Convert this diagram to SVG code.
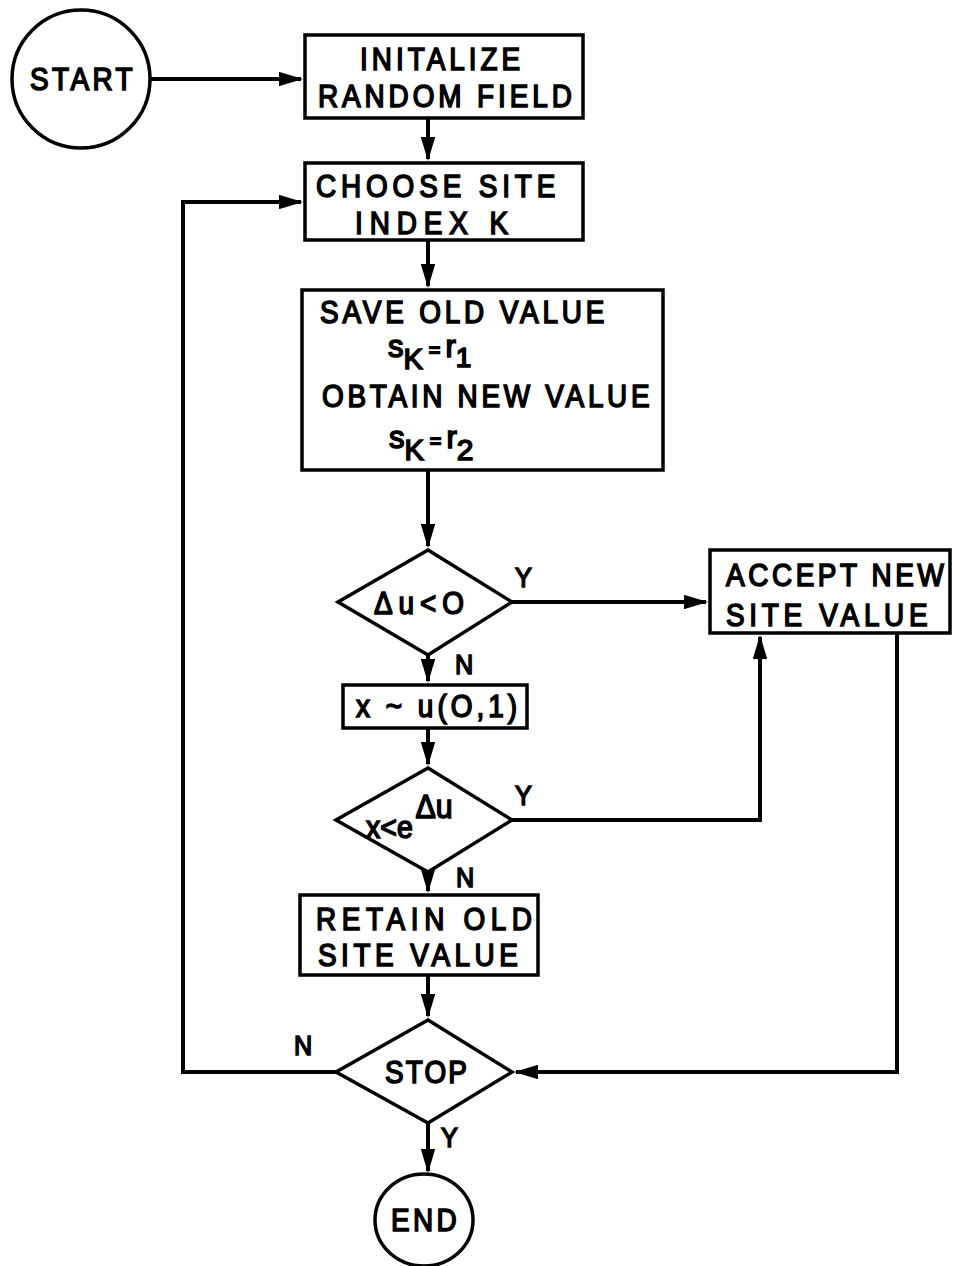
<svg xmlns="http://www.w3.org/2000/svg" width="953" height="1266" viewBox="0 0 953 1266">
<defs>
<marker id="ah" markerWidth="6" markerHeight="3.6" refX="5.5" refY="1.8" orient="auto" markerUnits="strokeWidth">
<path d="M0,0 L6,1.8 L0,3.6 Z" fill="#000"/>
</marker>
<style>
.shape{fill:#fff;stroke:#000;stroke-width:3.5}
.conn{fill:none;stroke:#000;stroke-width:4}
.t{font-family:"Liberation Sans",Arial,sans-serif;font-size:31px;font-weight:normal;fill:#000;stroke:#000;stroke-width:1.6}
.lbl{font-family:"Liberation Sans",Arial,sans-serif;font-size:28px;fill:#000;stroke:#000;stroke-width:1.6}
</style>
</defs>
<rect width="953" height="1266" fill="#fff"/>
<g id="connectors">
<path class="conn" d="M150,79 H301" marker-end="url(#ah)"/>
<path class="conn" d="M428,118 V159" marker-end="url(#ah)"/>
<path class="conn" d="M428,240 V286" marker-end="url(#ah)"/>
<path class="conn" d="M428,470 V546" marker-end="url(#ah)"/>
<path class="conn" d="M512,602 H706" marker-end="url(#ah)"/>
<path class="conn" d="M428,655 V681" marker-end="url(#ah)"/>
<path class="conn" d="M428,728 V764" marker-end="url(#ah)"/>
<path class="conn" d="M512,820 H760 V637" marker-end="url(#ah)"/>
<path class="conn" d="M428,872 V891" marker-end="url(#ah)"/>
<path class="conn" d="M428,975 V1016" marker-end="url(#ah)"/>
<path class="conn" d="M897,633 V1072 H516" marker-end="url(#ah)"/>
<path class="conn" d="M336,1072 H183 V202 H301" marker-end="url(#ah)"/>
<path class="conn" d="M428,1123 V1171" marker-end="url(#ah)"/>
<text class="lbl" transform="translate(515,587) scale(0.9,1)">Y</text>
<text class="lbl" transform="translate(455,674) scale(0.9,1)">N</text>
<text class="lbl" transform="translate(515,805) scale(0.9,1)">Y</text>
<text class="lbl" transform="translate(456,887) scale(0.9,1)">N</text>
<text class="lbl" transform="translate(294,1055) scale(0.9,1)">N</text>
<text class="lbl" transform="translate(441,1147) scale(0.9,1)">Y</text>
</g>
<g id="start">
<ellipse class="shape" cx="81" cy="79" rx="69" ry="69"/>
<text class="t" transform="translate(30,90) scale(0.9,1)" textLength="114">START</text>
</g>
<g id="init">
<rect class="shape" x="305" y="35" width="278" height="83"/>
<text class="t" transform="translate(360,70) scale(0.9,1)" textLength="178">INITALIZE</text>
<text class="t" transform="translate(318,107) scale(0.9,1)" textLength="282">RANDOM FIELD</text>
</g>
<g id="choose">
<rect class="shape" x="305" y="163" width="278" height="77"/>
<text class="t" transform="translate(316,197) scale(0.9,1)" textLength="266">CHOOSE SITE</text>
<text class="t" transform="translate(355,234) scale(0.9,1)" textLength="170">INDEX  K</text>
</g>
<g id="save">
<rect class="shape" x="302" y="290" width="361" height="180"/>
<text class="t" transform="translate(320,323) scale(0.9,1)" textLength="316">SAVE OLD VALUE</text>
<text class="t" transform="translate(388,357)">s<tspan font-size="29" dy="12">K</tspan><tspan dx="6" dy="-12" font-size="20">=</tspan><tspan dx="5">r</tspan><tspan font-size="28" dy="10">1</tspan></text>
<text class="t" transform="translate(322,407) scale(0.9,1)" textLength="364">OBTAIN NEW VALUE</text>
<text class="t" transform="translate(389,448)">s<tspan font-size="29" dy="12">K</tspan><tspan dx="6" dy="-12" font-size="20">=</tspan><tspan dx="5">r</tspan><tspan font-size="30" dy="12">2</tspan></text>
</g>
<g id="dec1">
<polygon class="shape" points="428,550 512,602 428,655 338,602"/>
<text class="t" transform="translate(374,614) scale(0.9,1)" font-size="34" textLength="100">Δu&lt;O</text>
</g>
<g id="accept">
<rect class="shape" x="710" y="550" width="240" height="83"/>
<text class="t" transform="translate(726,586) scale(0.9,1)" textLength="242">ACCEPT NEW</text>
<text class="t" transform="translate(726,626) scale(0.9,1)" textLength="224">SITE VALUE</text>
</g>
<g id="rand">
<rect class="shape" x="343" y="685" width="184" height="43"/>
<text class="t" transform="translate(356,717) scale(0.9,1)" textLength="179">x ~ u(O,1)</text>
</g>
<g id="dec2">
<polygon class="shape" points="428,768 512,820 428,872 336,820"/>
<text class="t" transform="translate(366,838) scale(0.92,1)">x&lt;e<tspan dx="3" dy="-20" font-size="33">Δu</tspan></text>
</g>
<g id="retain">
<rect class="shape" x="300" y="895" width="238" height="80"/>
<text class="t" transform="translate(316,930) scale(0.9,1)" textLength="240">RETAIN OLD</text>
<text class="t" transform="translate(318,966) scale(0.9,1)" textLength="222">SITE VALUE</text>
</g>
<g id="stop">
<polygon class="shape" points="428,1020 512,1072 428,1123 336,1072"/>
<text class="t" transform="translate(385,1083) scale(0.9,1)" textLength="91">STOP</text>
</g>
<g id="end">
<ellipse class="shape" cx="424" cy="1220" rx="49" ry="46"/>
<text class="t" transform="translate(391,1231) scale(0.9,1)" textLength="73">END</text>
</g>
</svg>
